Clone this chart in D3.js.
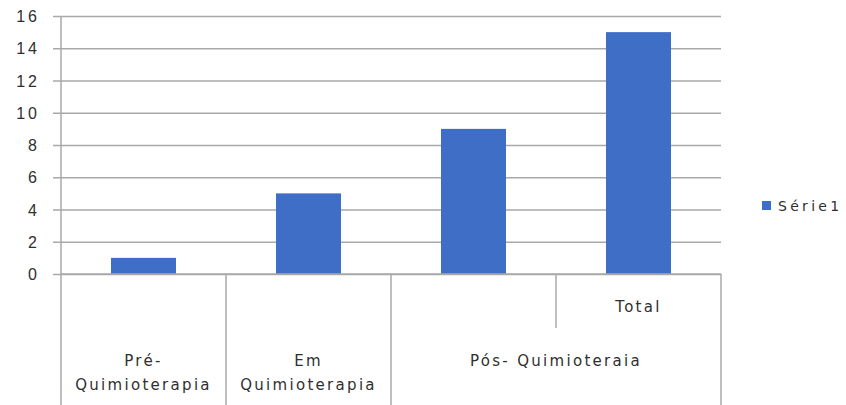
<!DOCTYPE html>
<html>
<head>
<meta charset="utf-8">
<script src="https://cdn.jsdelivr.net/npm/d3@7"></script>
<style>
  html, body { margin: 0; padding: 0; background: #fff; }
  svg { display: block; font-family: "DejaVu Sans", Verdana, sans-serif; }
  text { fill: #2f2f2f; font-size: 15px; letter-spacing: 2.3px; }
</style>
</head>
<body>
<svg id="chart" width="846" height="405"></svg>
<script>
// Chart data
const categories = ["pre", "em", "pos", "total"];
const values = [1, 5, 9, 15];
const seriesName = "Série1";
const yTicks = [0, 2, 4, 6, 8, 10, 12, 14, 16];
// Category labels (first level, may span two lines)
const level1Labels = [["Pré-", "Quimioterapia"], ["Em", "Quimioterapia"], [], []];
// Second-level label over the last category, and the group label spanning the last two
const level2Labels = ["", "", "", "Total"];
const groupLabel = { text: "Pós- Quimioteraia", from: 2, to: 3 };

const svg = d3.select("#chart");
const plotLeft = 61, plotRight = 721, plotTop = 16, baseY = 274, plotBottom = 405;
const gridColor = "#a9a9a9";
const barColor = "#3f6ec6";

const x = d3.scaleBand().domain(categories).range([plotLeft, plotRight]).padding(0);
const y = d3.scaleLinear().domain([0, 16]).range([baseY, plotTop]);
const barFrac = 0.394;

// Value axis with gridlines
const yAxis = d3.axisLeft(y).tickValues(yTicks).tickSizeInner(-(plotRight - plotLeft)).tickSizeOuter(0).tickPadding(22);
svg.append("g")
  .attr("transform", `translate(${plotLeft},0)`)
  .call(yAxis)
  .call(g => g.select(".domain").remove())
  .call(g => g.selectAll(".tick line").attr("x1", -8).attr("stroke", gridColor).attr("stroke-width", 1.5))
  .call(g => g.selectAll(".tick text")
    .attr("x", -21)
    .style("text-anchor", "end")
    .style("font-size", "16px")
    .style("letter-spacing", "3px")
    .attr("dy", "0.35em"));

// Bars
svg.append("g").selectAll("rect")
  .data(values)
  .join("rect")
  .attr("x", (d, i) => x(categories[i]) + x.bandwidth() * (1 - barFrac) / 2)
  .attr("width", x.bandwidth() * barFrac)
  .attr("y", d => y(d))
  .attr("height", d => y(0) - y(d))
  .attr("fill", barColor);

// Axis lines
const lines = svg.append("g").attr("stroke", gridColor).attr("stroke-width", 1.5);
lines.append("line").attr("x1", plotLeft).attr("x2", plotLeft).attr("y1", plotTop).attr("y2", plotBottom);
lines.append("line").attr("x1", plotLeft).attr("x2", plotRight).attr("y1", baseY).attr("y2", baseY);

// Category dividers: full height between groups, short between levels inside the group
const boundaries = [1, 2, 3, 4];
boundaries.forEach(b => {
  const bx = b < categories.length ? x(categories[b]) : plotRight;
  const inside = b > groupLabel.from && b <= groupLabel.to;
  lines.append("line").attr("x1", bx).attr("x2", bx)
    .attr("y1", baseY).attr("y2", inside ? 328 : plotBottom);
});

// First-level labels
level1Labels.forEach((rows, i) => {
  const cx = x(categories[i]) + x.bandwidth() / 2;
  rows.forEach((t, k) => {
    svg.append("text").attr("x", cx).attr("y", 366 + k * 24)
      .attr("text-anchor", "middle").text(t);
  });
});

// Second-level labels
level2Labels.forEach((t, i) => {
  if (!t) return;
  svg.append("text").attr("x", x(categories[i]) + x.bandwidth() / 2).attr("y", 312)
    .attr("text-anchor", "middle").text(t);
});

// Group label
svg.append("text")
  .attr("x", (x(categories[groupLabel.from]) + x(categories[groupLabel.to]) + x.bandwidth()) / 2)
  .attr("y", 366).attr("text-anchor", "middle").text(groupLabel.text);

// Legend
const legend = svg.append("g").attr("transform", "translate(762,201)");
legend.append("rect").attr("width", 9).attr("height", 9).attr("fill", barColor);
legend.append("text").attr("x", 16).attr("y", 9.5).style("font-size", "14px").style("letter-spacing", "3.3px").text(seriesName);
</script>
</body>
</html>
